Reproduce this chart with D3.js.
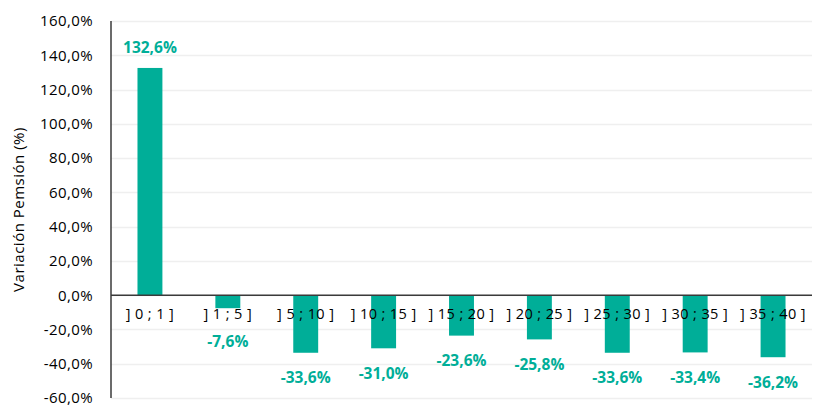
<!DOCTYPE html>
<html>
<head>
<meta charset="utf-8">
<script src="https://cdn.jsdelivr.net/npm/d3@7"></script>
<style>
  body { margin: 0; background: #fff; }
  text { font-family: "Open Sans", "Liberation Sans", sans-serif; }
</style>
</head>
<body>
<svg id="chart" width="814" height="405"></svg>
<script>
// categories (age ranges) and pension variation in %
var categories = ["] 0 ; 1 ]", "] 1 ; 5 ]", "] 5 ; 10 ]", "] 10 ; 15 ]", "] 15 ; 20 ]",
                  "] 20 ; 25 ]", "] 25 ; 30 ]", "] 30 ; 35 ]", "] 35 ; 40 ]"];
var values = [132.6, -7.6, -33.6, -31.0, -23.6, -25.8, -33.6, -33.4, -36.2];
var yTicks = [-60, -40, -20, 0, 20, 40, 60, 80, 100, 120, 140, 160];

var svg = d3.select("#chart"),
    margin = {top: 21, right: 2, bottom: 7, left: 111},
    width = +svg.attr("width") - margin.left - margin.right,
    height = +svg.attr("height") - margin.top - margin.bottom;

var g = svg.append("g").attr("transform", "translate(" + margin.left + "," + margin.top + ")");

var x = d3.scaleBand()
    .domain(categories)
    .range([0, width])
    .paddingInner(0.68)
    .paddingOuter(0.34);

var y = d3.scaleLinear()
    .domain([-60, 160])
    .range([height, 0]);

// excel style: comma decimal, plain hyphen
var fmt = function (v) {
  return d3.format(".1f")(v).replace(".", ",").replace("\u2212", "-") + "%";
};

// gridlines
g.append("g")
  .selectAll("line")
  .data(yTicks)
  .enter().append("line")
  .attr("x1", 0)
  .attr("x2", width)
  .attr("y1", function (d) { return Math.round(y(d)) + 0.5; })
  .attr("y2", function (d) { return Math.round(y(d)) + 0.5; })
  .attr("stroke", "#efefef")
  .attr("stroke-width", 1.5);

// y axis tick labels
g.append("g")
  .selectAll("text")
  .data(yTicks)
  .enter().append("text")
  .attr("x", -18)
  .attr("y", function (d) { return y(d); })
  .attr("dy", "0.36em")
  .attr("text-anchor", "end")
  .attr("font-size", 15)
  .attr("letter-spacing", "0.4px")
  .attr("fill", "#000")
  .text(fmt);

// bars
g.append("g")
  .selectAll("rect")
  .data(values)
  .enter().append("rect")
  .attr("x", function (d, i) { return x(categories[i]); })
  .attr("width", x.bandwidth())
  .attr("y", function (d) { return y(Math.max(0, d)); })
  .attr("height", function (d) { return Math.abs(y(d) - y(0)); })
  .attr("fill", "#00AE98");

// zero line and y axis line
g.append("line")
  .attr("x1", 0).attr("x2", width)
  .attr("y1", y(0)).attr("y2", y(0))
  .attr("stroke", "#3a3a3a").attr("stroke-width", 1.5);

g.append("line")
  .attr("x1", 0).attr("x2", 0)
  .attr("y1", 0).attr("y2", height)
  .attr("stroke", "#3a3a3a").attr("stroke-width", 1.5);

// category labels
g.append("g")
  .selectAll("text")
  .data(categories)
  .enter().append("text")
  .attr("x", function (d) { return x(d) + x.bandwidth() / 2; })
  .attr("y", y(0) + 24)
  .attr("text-anchor", "middle")
  .attr("font-size", 14.5)
  .attr("letter-spacing", "0.4px")
  .attr("fill", "#000")
  .text(function (d) { return d; });

// value labels
g.append("g")
  .selectAll("text")
  .data(values)
  .enter().append("text")
  .attr("x", function (d, i) { return x(categories[i]) + x.bandwidth() / 2; })
  .attr("y", function (d) {
    if (d >= 0) return y(d) - 21;
    return Math.max(y(d) + 25, y(0) + 46);
  })
  .attr("dy", "0.36em")
  .attr("text-anchor", "middle")
  .attr("font-size", 15.5)
  .attr("font-weight", "bold")
  .attr("fill", "#00AE98")
  .text(fmt);

// y axis title
svg.append("text")
  .attr("transform", "translate(24," + (margin.top + y(50)) + ") rotate(-90)")
  .attr("text-anchor", "middle")
  .attr("font-size", 15)
  .attr("letter-spacing", "0.5px")
  .attr("fill", "#000")
  .text("Variación Pemsión (%)");
</script>
</body>
</html>
